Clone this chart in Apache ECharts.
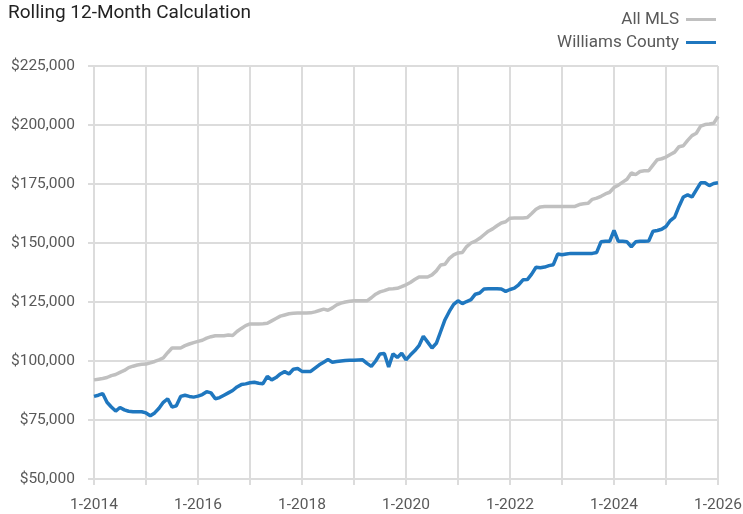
<!DOCTYPE html>
<html>
<head>
<meta charset="utf-8">
<script src="https://cdn.jsdelivr.net/npm/echarts@6/dist/echarts.min.js"></script>
<style>
html,body{margin:0;padding:0;background:#fff;}
#chart{width:743px;height:514px;}
</style>
</head>
<body>
<div id="chart"></div>
<script>
// Monthly categories from 1-2014 through 1-2026
const startYear = 2014;
const monthCount = 145;
const categories = [];
for (let i = 0; i < monthCount; i++) {
  categories.push((i % 12 + 1) + '-' + (startYear + Math.floor(i / 12)));
}

const seriesNames = ['All MLS', 'Williams County'];

// Values in thousands of dollars
const allMLS = [
  92, 92.3, 92.6, 93, 93.8, 94.3, 95.2, 96, 97.2, 97.8, 98.3, 98.6,
  98.7, 99.2, 99.8, 100.5, 101.3, 103.5, 105.5, 105.5, 105.5, 106.5, 107.2, 107.8,
  108.3, 108.8, 109.7, 110.3, 110.7, 110.7, 110.7, 111, 110.8, 112.5, 113.8, 115,
  115.7, 115.7, 115.7, 115.8, 116, 117, 118, 119, 119.5, 120, 120.2, 120.3,
  120.3, 120.3, 120.4, 120.8, 121.4, 122, 121.5, 122.5, 123.8, 124.5, 125, 125.3,
  125.5, 125.5, 125.5, 125.5, 126.8, 128.3, 129.3, 129.8, 130.5, 130.6, 130.8, 131.5,
  132.3, 133.3, 134.5, 135.6, 135.6, 135.6, 136.5, 138.2, 140.7, 141, 143.5, 145,
  145.8, 146, 148.5, 150, 150.8, 152, 153.5, 155, 156, 157.3, 158.5, 159,
  160.5, 160.6, 160.6, 160.6, 160.8, 162.5, 164.3, 165.3, 165.5, 165.5, 165.5, 165.5,
  165.5, 165.5, 165.5, 165.5, 166.3, 166.6, 166.8, 168.5, 169, 169.8, 170.8, 171.5,
  173.5, 174.5, 175.8, 177, 179.7, 179, 180.3, 180.6, 180.6, 183, 185.3, 185.7,
  186.4, 187.5, 188.5, 190.8, 191.2, 193.5, 195.5, 196.5, 199.5, 200.2, 200.4, 200.7,
  203.6
];

const williamsCounty = [
  85, 85.5, 86.2, 82.5, 80.5, 78.8, 80.3, 79.3, 78.7, 78.5, 78.5, 78.5,
  78, 76.8, 78, 80, 82.5, 84, 80.5, 81, 85, 85.5, 85, 84.7,
  85.1, 85.8, 87, 86.5, 84, 84.5, 85.5, 86.5, 87.5, 89, 90, 90.3,
  90.8, 91, 90.6, 90.4, 93.5, 92, 93, 94.5, 95.5, 94.5, 96.5, 96.8,
  95.6, 95.6, 95.6, 97, 98.4, 99.5, 100.6, 99.5, 99.8, 100, 100.2, 100.3,
  100.3, 100.4, 100.5, 99, 97.7, 100, 103, 103.2, 97.5, 103, 101.5, 103.3,
  100.5, 102.5, 104.3, 106.5, 110.5, 108, 105.5, 107.5, 112.5, 117.5, 121, 124,
  125.5, 124.3, 125.2, 126, 128.3, 128.8, 130.5, 130.6, 130.6, 130.6, 130.5, 129.5,
  130.3, 130.9, 132.3, 134.4, 134.5, 136.8, 139.7, 139.5, 139.8, 140.4, 140.8, 145.3,
  145, 145.3, 145.6, 145.6, 145.6, 145.6, 145.6, 145.6, 146, 150.5, 150.7, 150.7,
  155.3, 150.7, 150.7, 150.5, 148.4, 150.5, 150.7, 150.7, 150.8, 155, 155.3, 155.8,
  157, 159.5, 161, 165.5, 169.5, 170.4, 169.5, 172.5, 175.5, 175.5, 174.3, 175.2,
  175.5
];

const yMin = 50, yMax = 225, yStep = 25;

const FONT = "Roboto, 'Liberation Sans', sans-serif";
const gridColor = '#dcdcdc';

const chart = echarts.init(document.getElementById('chart'), null, {renderer: 'canvas'});
chart.setOption({
  animation: false,
  backgroundColor: '#ffffff',
  title: {
    text: 'Rolling 12-Month Calculation',
    left: 3, top: -1,
    textStyle: {fontFamily: FONT, fontSize: 19, fontWeight: 'normal', color: '#222222'}
  },
  legend: {
    orient: 'vertical',
    right: 22, top: 6,
    align: 'right',
    itemGap: 6,
    itemWidth: 30, itemHeight: 3,
    icon: 'rect',
    textStyle: {fontFamily: FONT, fontSize: 17, color: '#595959', padding: [0, 2, 0, 0]},
    data: seriesNames
  },
  grid: {left: 94, right: 25, top: 66, bottom: 35, containLabel: false, outerBoundsMode: 'none'},
  xAxis: {
    type: 'category',
    data: categories,
    boundaryGap: false,
    axisLine: {show: true, lineStyle: {color: gridColor, width: 2}},
    axisTick: {show: true, interval: 11, length: 6, lineStyle: {color: gridColor, width: 2}},
    axisLabel: {interval: 23, margin: 18, fontFamily: FONT, fontSize: 15.5, color: '#595959'},
    splitLine: {show: true, interval: 11, lineStyle: {color: gridColor, width: 2}}
  },
  yAxis: {
    type: 'value',
    min: yMin, max: yMax, interval: yStep,
    axisLine: {show: false},
    axisTick: {show: true, length: 6, lineStyle: {color: gridColor, width: 2}},
    axisLabel: {
      margin: 19, fontFamily: FONT, fontSize: 15.5, color: '#595959',
      formatter: function (v) { return '$' + v + ',000'; }
    },
    splitLine: {show: true, lineStyle: {color: gridColor, width: 2}}
  },
  series: [
    {
      name: seriesNames[0], type: 'line', data: allMLS,
      showSymbol: false, symbol: 'none',
      lineStyle: {color: '#c0c0c0', width: 3.5},
      itemStyle: {color: '#c0c0c0'},
      z: 2
    },
    {
      name: seriesNames[1], type: 'line', data: williamsCounty,
      showSymbol: false, symbol: 'none',
      lineStyle: {color: '#1f77bf', width: 3.5},
      itemStyle: {color: '#1f77bf'},
      z: 3
    }
  ]
});
</script>
</body>
</html>
